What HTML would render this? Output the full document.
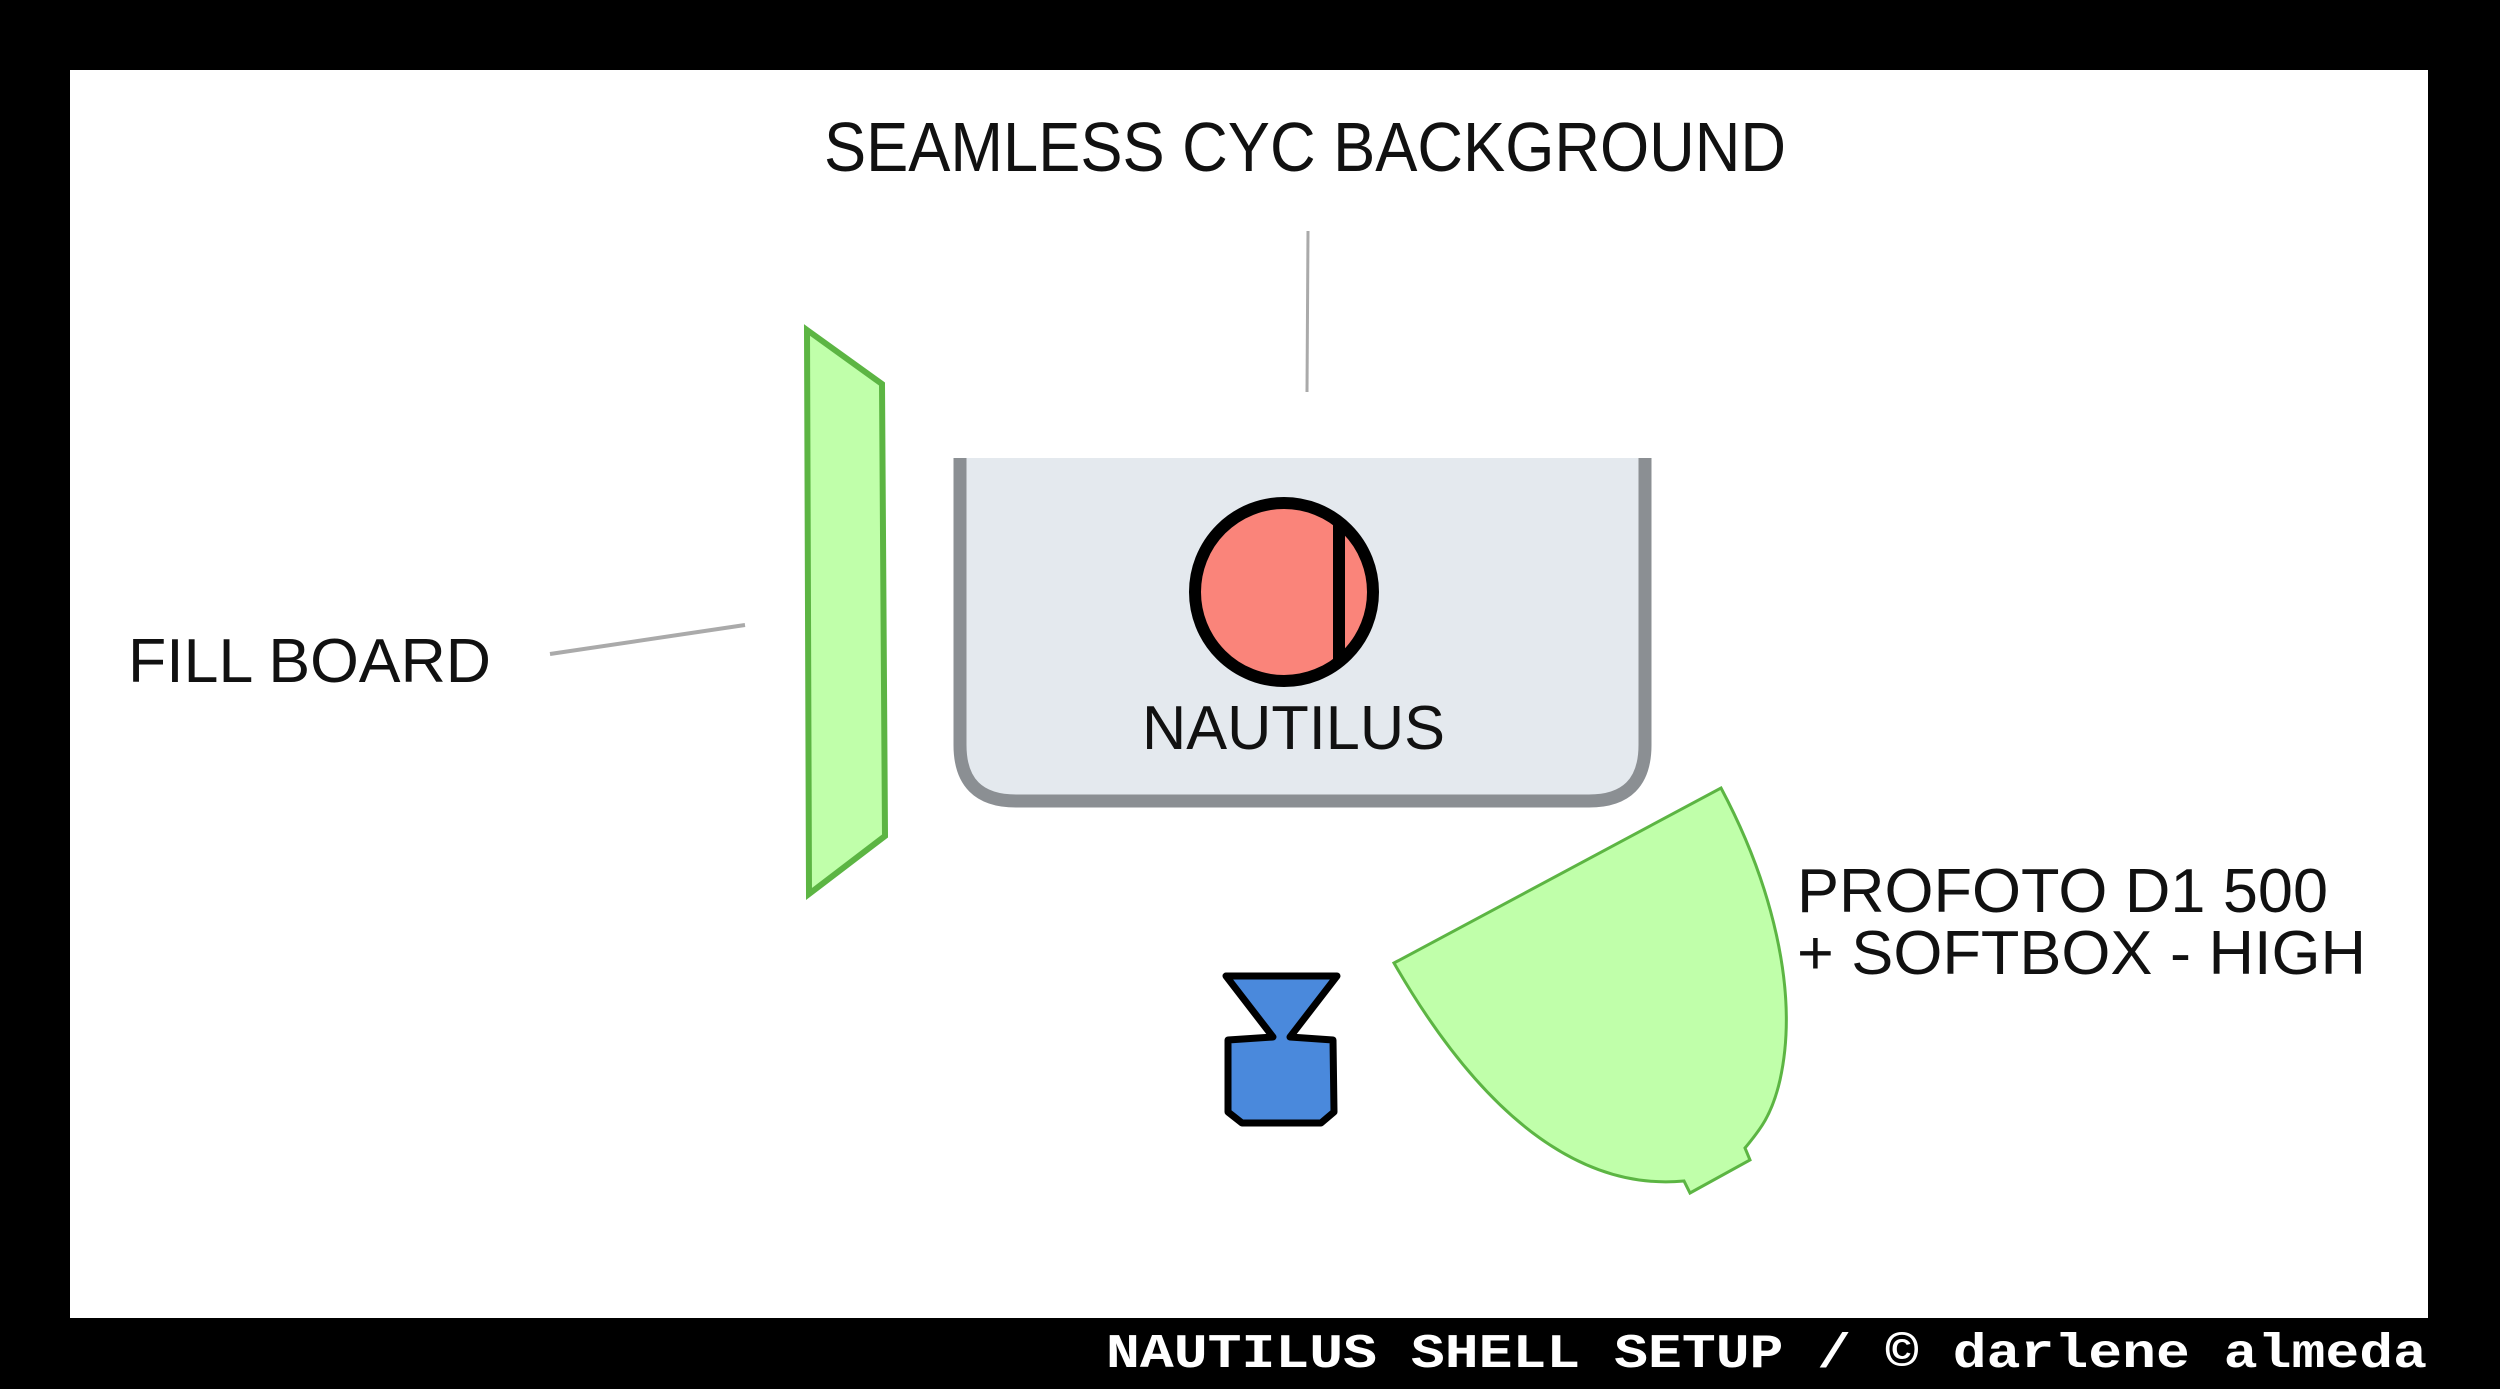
<!DOCTYPE html>
<html><head><meta charset="utf-8"><style>
html,body{margin:0;padding:0;background:#000;}
svg{display:block;}
</style></head><body>
<svg width="2500" height="1389" viewBox="0 0 2500 1389" xmlns="http://www.w3.org/2000/svg">
<rect x="0" y="0" width="2500" height="1389" fill="#000"/>
<rect x="70" y="70" width="2358" height="1248" fill="#fff"/>
<!-- title -->
<text x="824" y="171" font-family="Liberation Sans, sans-serif" font-size="70" fill="#111" textLength="962" lengthAdjust="spacingAndGlyphs">SEAMLESS CYC BACKGROUND</text>
<line x1="1308" y1="231" x2="1307" y2="392" stroke="#aaa" stroke-width="3"/>
<!-- cyc -->
<path d="M960,458 L960,745 Q960,801 1016,801 L1589,801 Q1645,801 1645,745 L1645,458" fill="#e4e9ee" stroke="#8b8f93" stroke-width="13"/>
<rect x="950" y="452" width="705" height="6" fill="#fff"/>
<!-- nautilus -->
<circle cx="1284" cy="592" r="89" fill="#fa847a" stroke="#000" stroke-width="12"/>
<line x1="1339" y1="525" x2="1339" y2="660" stroke="#000" stroke-width="12"/>
<text x="1142" y="749" font-family="Liberation Sans, sans-serif" font-size="62" fill="#111" textLength="303" lengthAdjust="spacingAndGlyphs">NAUTILUS</text>
<!-- fill board -->
<polygon points="807,330 882,384 885,836 809,894" fill="#c0ffaa" stroke="#5cb543" stroke-width="6"/>
<line x1="550" y1="654" x2="745" y2="625" stroke="#aaa" stroke-width="4"/>
<text x="128" y="682" font-family="Liberation Sans, sans-serif" font-size="62" fill="#111" textLength="363" lengthAdjust="spacingAndGlyphs">FILL BOARD</text>
<!-- camera -->
<path d="M1226,976 L1337,976 L1290,1037 L1333,1040 L1334,1112 L1321,1123 L1242,1123 L1228,1112 L1228,1040 L1273,1037 Z" fill="#4a89dc" stroke="#000" stroke-width="7" stroke-linejoin="round"/>
<!-- softbox -->
<path d="M1394,963 L1721,788 C1770,880 1800,990 1780,1080 C1772,1115 1760,1130 1745,1148 L1750,1160 L1690,1193 L1684,1181 C1590,1190 1490,1130 1394,963 Z" fill="#c0ffaa" stroke="#5cb543" stroke-width="3"/>
<text x="1797" y="912" font-family="Liberation Sans, sans-serif" font-size="62" fill="#111" textLength="531" lengthAdjust="spacingAndGlyphs">PROFOTO D1 500</text>
<text x="1797" y="974" font-family="Liberation Sans, sans-serif" font-size="62" fill="#111" textLength="569" lengthAdjust="spacingAndGlyphs">+ SOFTBOX - HIGH</text>
<!-- footer -->
<text x="1106" y="1367" font-family="Liberation Mono, monospace" font-weight="bold" font-size="48" fill="#fff" textLength="1321" lengthAdjust="spacingAndGlyphs">NAUTILUS SHELL SETUP / © darlene almeda</text>
</svg>
</body></html>
